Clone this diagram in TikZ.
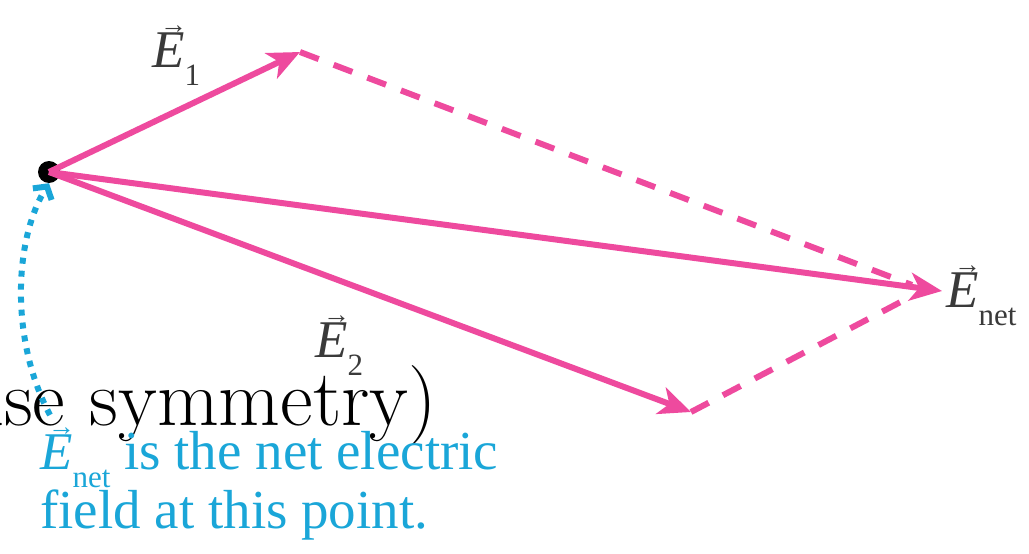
\documentclass[tikz,border=0pt]{standalone}
\usepackage{fontspec}
\newfontfamily\tnr{Liberation Serif}
\usetikzlibrary{arrows.meta}
\definecolor{vpink}{HTML}{EE4A9E}
\definecolor{vblue}{HTML}{1AA6D8}
\definecolor{lblgray}{HTML}{3A3A3A}
\newcommand\vE[1]{\begingroup\tnr\fontsize{53}{55}\selectfont\makebox[0pt][l]{\hspace{8pt}\raisebox{34pt}{\fontsize{27}{27}\selectfont →}}\textit{E}\raisebox{-18pt}{\fontsize{31}{31}\selectfont #1}\endgroup}
\tikzset{
  vec/.style={draw=vpink, line width=6pt, -{Stealth[length=32pt,width=28pt,inset=9pt]}},
  comp/.style={draw=vpink, line width=6pt, dash pattern=on 20pt off 16pt},
  lbl/.style={anchor=base west, inner sep=0pt, text=lblgray},
  note/.style={draw=vblue, line width=6pt, dash pattern=on 6pt off 7pt, -{Straight Barb[length=9pt,width=22pt,line width=6pt]}}
}
\begin{document}
\begin{tikzpicture}[x=1pt,y=-1pt]
\useasboundingbox (0,0) rectangle (1029,554);
\node[anchor=base east, inner sep=0pt, font=\fontsize{80}{80}\selectfont] (sym) at (437,425) {(use symmetry)};
\node[circle, fill=black, inner sep=0pt, minimum size=22pt] (P) at (49,172) {};
\coordinate (T1) at (300,52);
\coordinate (T2) at (691,412);
\coordinate (TN) at (942,291);
\draw[comp] (T1) -- (912,285);
\draw[comp] (T2) -- (912,296);
\draw[vec] (P.center) -- (T1);
\draw[vec] (P.center) -- (T2);
\draw[vec] (P.center) -- (TN);
\node[lbl] (l1) at (152,67) {\vE{1}};
\node[lbl] (l2) at (315,357) {\vE{2}};
\node[lbl] (ln) at (946,307) {\vE{net}};
\coordinate (B) at (50,415);
\draw[note] (B) .. controls (10,340) and (14,240) .. (P.south);
\node[anchor=base west, align=left, inner sep=0pt, text=vblue, font=\tnr\fontsize{55}{55}\selectfont] (txt) at (40,528) {\vE{net} is the net electric\\field at this point.};
\end{tikzpicture}
\end{document}
